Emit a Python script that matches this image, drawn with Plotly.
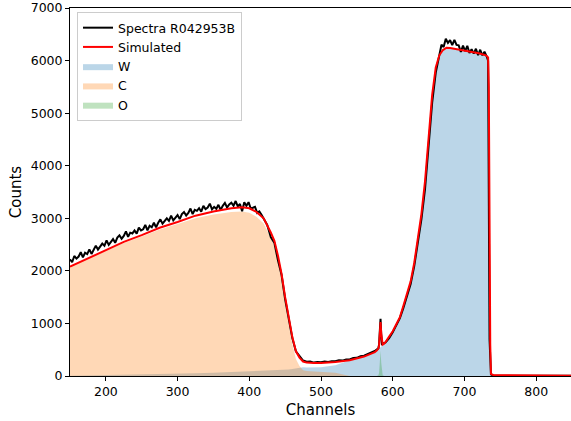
import numpy as np
import plotly.graph_objects as go

# ---- simulated components (channel grid) ----
comp_channels = [150, 175, 200, 225, 250, 275, 300, 325, 350, 375, 390, 400, 410, 420,
                 430, 435, 440, 445, 450, 455, 460, 465, 470, 475, 480, 490, 500, 520,
                 540, 560, 570, 575, 578, 580, 581, 582, 583, 584, 585, 586, 588, 590,
                 595, 600, 605, 610, 615, 620, 625, 630, 635, 640, 645, 650, 655, 660,
                 665, 670, 675, 680, 690, 700, 710, 720, 730, 733, 734, 735, 736, 737,
                 740, 760, 800, 850]

w_counts = [5, 10, 15, 20, 25, 32, 40, 50, 60, 72, 80, 85, 92, 98,
            105, 108, 112, 116, 120, 125, 135, 145, 160, 165, 160, 158, 165, 205,
            300, 370, 420, 455, 490, 510, 522, 535, 547, 558, 570, 582, 615, 645,
            750, 850, 985, 1120, 1340, 1560, 1800, 2150, 2580, 3080, 3700, 4600, 5350, 5870,
            6100, 6200, 6245, 6240, 6215, 6190, 6165, 6140, 6100, 6060, 5500, 2500, 600, 40,
            20, 15, 10, 5]

c_counts = [2075, 2230, 2385, 2530, 2655, 2788, 2890, 3000, 3070, 3118, 3130, 3105, 3028, 2902,
            2625, 2462, 2178, 1824, 1380, 955, 605, 325, 190, 110, 95, 87, 80, 60,
            0, 0, 0, 0, 0, 0, 0, 0, 0, 0, 0, 0, 0, 0,
            0, 0, 0, 0, 0, 0, 0, 0, 0, 0, 0, 0, 0, 0,
            0, 0, 0, 0, 0, 0, 0, 0, 0, 0, 0, 0, 0, 0,
            0, 0, 0, 0]

o_counts = [0, 0, 0, 0, 0, 0, 0, 0, 0, 0, 0, 0, 0, 0,
            0, 0, 0, 0, 0, 0, 0, 0, 0, 0, 0, 0, 0, 0,
            0, 0, 0, 0, 0, 15, 60, 260, 480, 250, 60, 15, 0, 0,
            0, 0, 0, 0, 0, 0, 0, 0, 0, 0, 0, 0, 0, 0,
            0, 0, 0, 0, 0, 0, 0, 0, 0, 0, 0, 0, 0, 0,
            0, 0, 0, 0]

# ---- measured spectrum ----
spec_channels = [150, 153, 156, 159, 162, 165, 168, 171, 174, 177,
                 180, 183, 186, 189, 192, 195, 198, 201, 204, 207,
                 210, 213, 216, 219, 222, 225, 228, 231, 234, 237,
                 240, 243, 246, 249, 252, 255, 258, 261, 264, 267,
                 270, 273, 276, 279, 282, 285, 288, 291, 294, 297,
                 300, 303, 306, 309, 312, 315, 318, 321, 324, 327,
                 330, 333, 336, 339, 342, 345, 348, 351, 354, 357,
                 360, 363, 366, 369, 372, 375, 378, 381, 384, 387,
                 390, 393, 396, 399, 402, 405, 408, 411, 414, 417,
                 420, 425, 430, 435, 440, 445, 450, 455, 460, 465,
                 470, 475, 480, 485, 490, 495, 500, 505, 510, 515,
                 520, 525, 530, 535, 540, 545, 550, 555, 560, 565,
                 570, 575, 580, 581, 582, 583, 584, 585, 590, 595,
                 600, 605, 610, 615, 620, 625, 630, 635, 640, 645,
                 650, 655, 660, 665, 668, 671, 674, 677, 680, 683,
                 686, 689, 692, 695, 698, 701, 704, 707, 710, 713,
                 716, 719, 722, 725, 728, 731, 733, 735, 737, 740,
                 750, 800, 850]

spec_counts = [2220, 2164, 2283, 2233, 2272, 2356, 2255, 2344, 2319, 2408,
               2322, 2411, 2480, 2405, 2474, 2518, 2477, 2581, 2494, 2552,
               2605, 2533, 2631, 2674, 2612, 2665, 2751, 2646, 2727, 2712,
               2768, 2709, 2824, 2770, 2791, 2873, 2770, 2857, 2828, 2915,
               2827, 2914, 2979, 2898, 2961, 2999, 2952, 3050, 2959, 3012,
               3060, 2984, 3079, 3118, 3053, 3102, 3186, 3081, 3160, 3141,
               3191, 3126, 3235, 3175, 3204, 3279, 3169, 3217, 3180, 3257,
               3159, 3236, 3293, 3206, 3263, 3295, 3239, 3328, 3227, 3271,
               3135, 3304, 3238, 3307, 3186, 3200, 3219, 3103, 3132, 3066,
               3000, 2875, 2640, 2530, 2200, 1920, 1460, 1060, 720, 470,
               370, 295, 270, 275, 255, 265, 260, 275, 265, 280,
               280, 299, 293, 316, 315, 343, 345, 377, 385, 415,
               430, 475, 525, 600, 850, 1090, 790, 610, 640, 720,
               830, 955, 1100, 1300, 1530, 1750, 2090, 2500, 2980, 3550,
               4450, 5200, 5770, 6100, 6300, 6259, 6416, 6335, 6390, 6293,
               6395, 6298, 6290, 6163, 6285, 6178, 6280, 6143, 6215, 6133,
               6225, 6103, 6206, 6100, 6168, 6082, 6000, 700, 30, 10,
               5, 5, 3]

x_ticks = [200, 300, 400, 500, 600, 700, 800]
y_ticks = [0, 1000, 2000, 3000, 4000, 5000, 6000, 7000]

simulated = np.array(w_counts) + np.array(c_counts) + np.array(o_counts)

fig = go.Figure()
fig.add_trace(go.Scatter(x=comp_channels, y=w_counts, mode="lines", fill="tozeroy",
                         fillcolor="rgba(31,119,180,0.3)", line=dict(width=0),
                         name="W", legendrank=3))
fig.add_trace(go.Scatter(x=comp_channels, y=c_counts, mode="lines", fill="tozeroy",
                         fillcolor="rgba(255,127,14,0.3)", line=dict(width=0),
                         name="C", legendrank=4))
fig.add_trace(go.Scatter(x=comp_channels, y=o_counts, mode="lines", fill="tozeroy",
                         fillcolor="rgba(44,160,44,0.3)", line=dict(width=0),
                         name="O", legendrank=5))
fig.add_trace(go.Scatter(x=spec_channels, y=spec_counts, mode="lines",
                         line=dict(color="black", width=2),
                         name="Spectra R042953B", legendrank=1))
fig.add_trace(go.Scatter(x=comp_channels, y=simulated, mode="lines",
                         line=dict(color="red", width=2),
                         name="Simulated", legendrank=2))

font_family = "DejaVu Sans"
fig.update_layout(
    width=571, height=421,
    margin=dict(l=70, r=0, t=6, b=45),
    plot_bgcolor="white", paper_bgcolor="white",
    font=dict(family=font_family, color="black", size=12.5),
    showlegend=True,
    legend=dict(x=0.014, y=0.989, xanchor="left", yanchor="top",
                bgcolor="rgba(255,255,255,0.8)", bordercolor="#cccccc", borderwidth=1,
                font=dict(family=font_family, size=12.5, color="black"),
                tracegroupgap=0),
    xaxis=dict(range=[150, 848.6], tickvals=x_ticks, ticks="outside", ticklen=4,
               tickcolor="black", showline=True, linecolor="black", linewidth=1,
               mirror=True, showgrid=False, zeroline=False,
               tickfont=dict(size=12.5), ticklabeloverflow="allow",
               title=dict(text="Channels", font=dict(size=15), standoff=6)),
    yaxis=dict(range=[0, 7000], tickvals=y_ticks, ticks="outside", ticklen=4,
               tickcolor="black", showline=True, linecolor="black", linewidth=1,
               mirror=False, showgrid=False, zeroline=False,
               tickfont=dict(size=12.5), ticklabeloverflow="allow",
               title=dict(text="Counts", font=dict(size=15), standoff=5)),
)

fig.write_html("out.html")
